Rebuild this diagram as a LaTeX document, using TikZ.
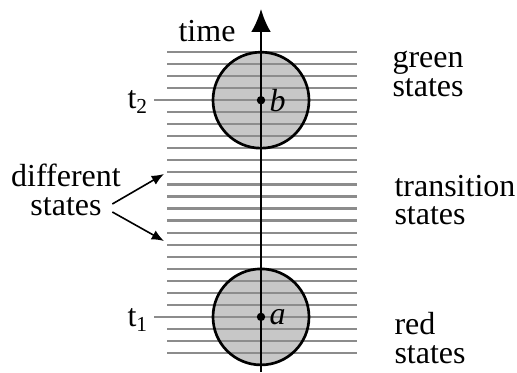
\documentclass[tikz,border=0pt]{standalone}
\usepackage{fontspec}
\setmainfont{Liberation Serif}
\usetikzlibrary{arrows.meta, positioning, calc}

\tikzset{
  stateline/.style={draw=black!45, line width=0.8pt},
  blob/.style={draw=black, line width=1pt},
  timeaxis/.style={line width=0.8pt, -{Latex[length=8.6pt, width=7.4pt]}},
  pointer/.style={line width=0.6pt, -{Latex[length=4.6pt, width=3.8pt]}},
  lbl/.style={inner sep=0pt, font=\fontsize{12}{10.8}\selectfont}
}

\begin{document}
\begin{tikzpicture}[x=0.375pt, y=-0.375pt]
        \useasboundingbox (0,0) rectangle (517,373);

        % Positions (pixel grid, y downwards)
        \def\xAxis{261}
        \def\yTop{52}
        \def\yStep{12.04}
        \def\yTwo{100.2}
        \def\yOne{316.9}

        % Shaded regions round b and a
        \fill[black!22] (\xAxis,\yTwo) circle (48);
        \fill[black!22] (\xAxis,\yOne) circle (48);

        % State lines
        \foreach \i in {0,...,25}
          \draw[stateline] (167,{\yTop+\yStep*\i}) -- (357,{\yTop+\yStep*\i});
        \draw[stateline] (154,\yTwo) -- (167,\yTwo);
        \draw[stateline] (154,\yOne) -- (167,\yOne);

        % Outlines
        \draw[blob] (\xAxis,\yTwo) circle (48);
        \draw[blob] (\xAxis,\yOne) circle (48);

        % Time axis
        \coordinate (base) at (\xAxis,372);
        \coordinate (tip) at (\xAxis,9);
        \draw[timeaxis] (base) -- (tip);
        \node[lbl] (time) at (207,31) {time};

        % Points
        \fill (\xAxis,\yTwo) circle (4.2) coordinate (pb);
        \fill (\xAxis,\yOne) circle (4.2) coordinate (pa);
        \node[lbl, right=3pt of pb] (b) {\textit{b}};
        \node[lbl, right=3pt of pa] (a) {\textit{a}};

        % Time marks
        \node[lbl] (t2) at (138,102) {t\textsubscript{2}};
        \node[lbl] (t1) at (138,320) {t\textsubscript{1}};

        % Labels on the right
        \node[lbl, anchor=west, align=left] (green) at (392,74) {green\\states};
        \node[lbl, anchor=west, align=left] (trans) at (394,200) {transition\\states};
        \node[lbl, anchor=west, align=left] (red) at (394,338) {red\\states};

        % Different states
        \node[lbl, align=center] (diff) at (66,190) {different\\states};
        \coordinate (upper) at (164,174);
        \coordinate (lower) at (164,241);
        \draw[pointer] ($(diff.east)+(-9,14)$) -- (upper);
        \draw[pointer] ($(diff.east)+(-9,22)$) -- (lower);
    \end{tikzpicture}
\end{document}
